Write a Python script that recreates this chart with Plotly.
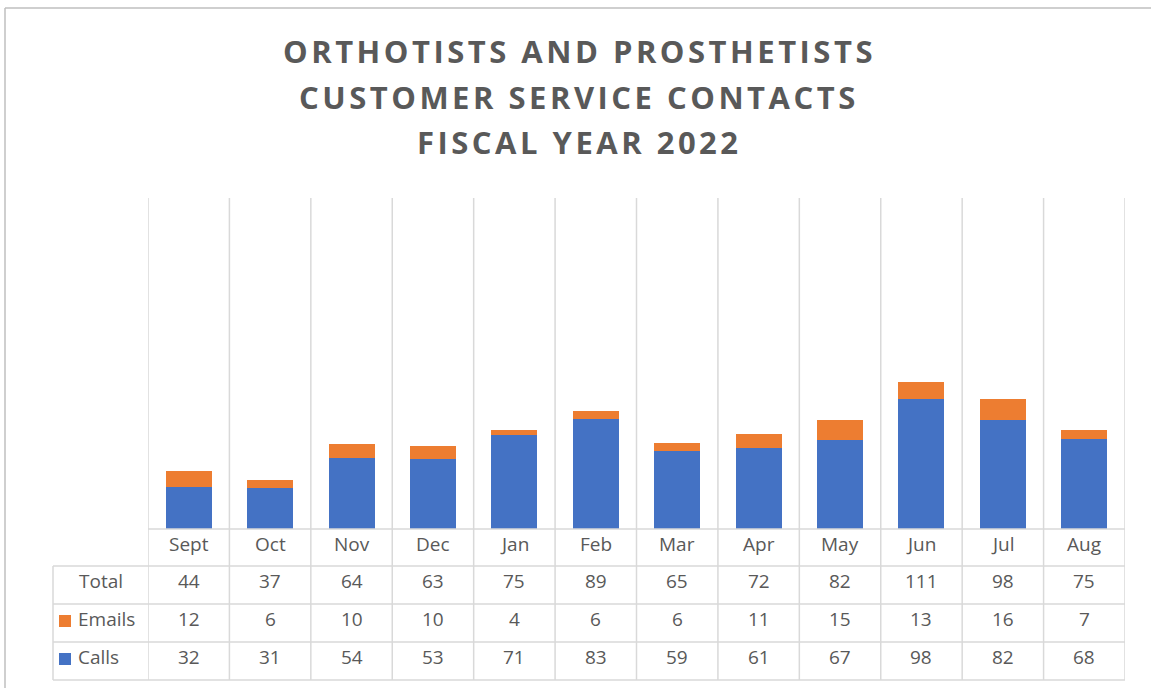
import plotly.graph_objects as go

months = ["Sept", "Oct", "Nov", "Dec", "Jan", "Feb", "Mar", "Apr", "May", "Jun", "Jul", "Aug"]
calls = [32, 31, 54, 53, 71, 83, 59, 61, 67, 98, 82, 68]
emails = [12, 6, 10, 10, 4, 6, 6, 11, 15, 13, 16, 7]
totals = [44, 37, 64, 63, 75, 89, 65, 72, 82, 111, 98, 75]
title_lines = ["ORTHOTISTS AND PROSTHETISTS", "CUSTOMER SERVICE CONTACTS", "FISCAL YEAR 2022"]

BLUE = "#4472C4"
ORANGE = "#ED7D31"
GRID = "#D9D9D9"
TXT = "#595959"

W, H = 1151, 688
L, R, T, B = 148, 26, 198, 159
PH = H - T - B


def py(p):
    return (H - B - p) / PH


def px(p):
    return (p - L) / (W - L - R)


fig = go.Figure()
fig.add_bar(x=months, y=calls, name="Calls", marker=dict(color=BLUE, line=dict(width=0)))
fig.add_bar(x=months, y=emails, name="Emails", marker=dict(color=ORANGE, line=dict(width=0)))

shapes = []
ybot = py(680)
for i in range(len(months) + 1):
    shapes.append(dict(type="line", xref="x", yref="paper", x0=i - 0.5, x1=i - 0.5,
                       y0=ybot, y1=1, line=dict(color=GRID, width=1.5), layer="below"))
shapes.append(dict(type="line", xref="paper", yref="paper", x0=px(53), x1=px(53),
                   y0=ybot, y1=py(566), line=dict(color=GRID, width=1.5)))
shapes.append(dict(type="line", xref="paper", yref="paper", x0=0, x1=1,
                   y0=0, y1=0, line=dict(color=GRID, width=1.5)))
for p in [566, 604, 642, 680]:
    shapes.append(dict(type="line", xref="paper", yref="paper", x0=px(53), x1=1,
                       y0=py(p), y1=py(p), line=dict(color=GRID, width=1.5)))
# outer chart border (top and left)
shapes.append(dict(type="line", xref="paper", yref="paper", x0=px(5), x1=px(1160),
                   y0=py(8), y1=py(8), line=dict(color="#BFBFBF", width=1.5)))
shapes.append(dict(type="line", xref="paper", yref="paper", x0=px(5), x1=px(5),
                   y0=py(8), y1=py(700), line=dict(color="#BFBFBF", width=1.5)))
# legend keys in the data table
for col, c in [(ORANGE, 621), (BLUE, 659)]:
    shapes.append(dict(type="rect", xref="paper", yref="paper", x0=px(59), x1=px(71),
                       y0=py(c + 6), y1=py(c - 6), fillcolor=col, line=dict(width=0)))

ann = []
tfont = dict(family="Open Sans", size=31, color=TXT, weight="bold")
for line, c in zip(title_lines, [51, 97, 142]):
    ann.append(dict(text='<span style="letter-spacing:3.5px">' + line + '</span>',
                    xref="paper", yref="paper", x=px(579), y=py(c),
                    xanchor="center", yanchor="middle", showarrow=False, font=tfont))

cfont = dict(family="Open Sans", size=19, color=TXT)
rows = [(544, months), (581, totals), (619, emails), (657, calls)]
for c, vals in rows:
    for m, v in zip(months, vals):
        ann.append(dict(text=str(v), xref="x", yref="paper", x=m, y=py(c),
                        xanchor="center", yanchor="middle", showarrow=False, font=cfont))

ann.append(dict(text="Total", xref="paper", yref="paper", x=px(101), y=py(581),
                xanchor="center", yanchor="middle", showarrow=False, font=cfont))
for name, c in [("Emails", 619), ("Calls", 657)]:
    ann.append(dict(text=name, xref="paper", yref="paper", x=px(76), y=py(c),
                    xanchor="left", yanchor="middle", showarrow=False, font=cfont))

fig.update_layout(
    width=W, height=H,
    margin=dict(l=L, r=R, t=T, b=B),
    barmode="stack", bargap=0.435,
    plot_bgcolor="white", paper_bgcolor="white",
    showlegend=False,
    xaxis=dict(type="category", showgrid=False, showticklabels=False, ticks="",
               showline=False, zeroline=False, range=[-0.5, 11.5], fixedrange=True),
    yaxis=dict(range=[0, 250], visible=False, showgrid=False, zeroline=False, fixedrange=True),
    shapes=shapes,
    annotations=ann,
)

fig.write_html("out.html", config={"displayModeBar": False},
               post_script="document.body.style.margin='0';")
